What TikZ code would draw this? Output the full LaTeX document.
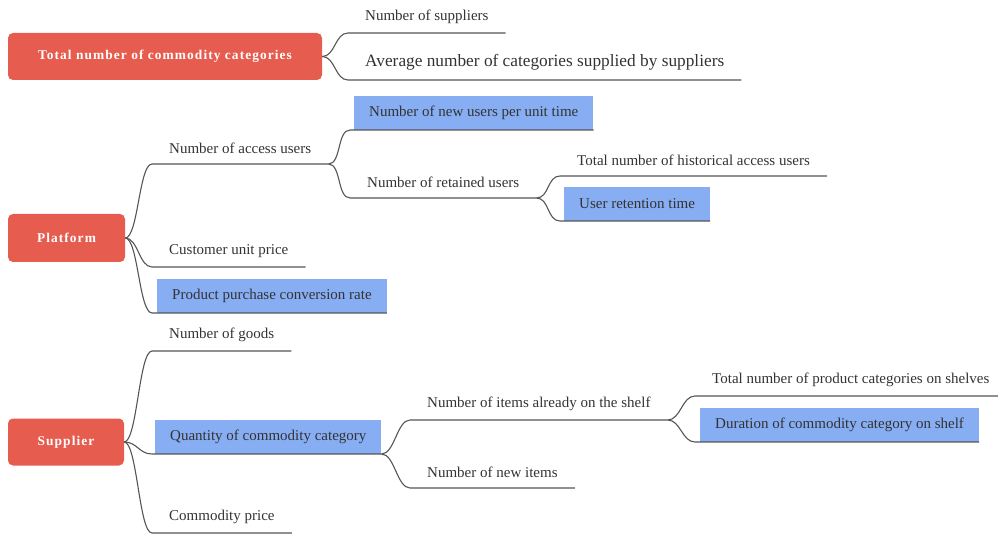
\documentclass[tikz,border=0pt]{standalone}
\usepackage{fontspec}
\setmainfont{Liberation Serif}
\newfontfamily\rootfont[LetterSpace=8]{Liberation Serif}
\usetikzlibrary{calc}
\definecolor{redc}{RGB}{230,92,79}
\definecolor{bluec}{RGB}{135,173,243}
\definecolor{txtc}{RGB}{51,51,51}
\definecolor{linec}{RGB}{85,85,85}
\tikzset{
  rootbox/.style={fill=redc, rounded corners=5pt, text=white, inner sep=0pt,
    font=\rootfont\bfseries\fontsize{13.4}{15}\selectfont},
  item/.style={text=txtc, font=\fontsize{15}{17}\selectfont, inner xsep=17pt,
    inner ysep=0pt, minimum height=31pt, anchor=south west},
  bigitem/.style={item, font=\fontsize{17.3}{20}\selectfont, minimum height=35pt},
  bluebox/.style={item, fill=bluec, inner xsep=15pt, minimum height=34pt},
  conn/.style={draw=linec, line width=1.1pt},
}
\newcommand\branch[3]{\draw[conn] (#1) .. controls +(13,0) and +(-13,0) .. (#2) -- (#3);}
\begin{document}
\begin{tikzpicture}[x=1pt,y=-1pt]
\useasboundingbox (0,0) rectangle (998,534);
% roots
\node[rootbox, minimum width=314pt, minimum height=47pt] (tot) at (165,56.5) {Total number of commodity categories};
\node[rootbox, minimum width=117pt, minimum height=48pt] (plat) at (66.5,238) {Platform};
\node[rootbox, minimum width=116pt, minimum height=47pt] (sup) at (66,442) {Supplier};
% total children
\node[item] (t1) at (348,33) {Number of suppliers};
\node[bigitem] (t2) at (348,80) {Average number of categories supplied by suppliers};
\branch{tot.east}{t1.south west}{t1.south east}
\branch{tot.east}{t2.south west}{t2.south east}
% platform children
\node[item] (p1) at (152,164) {Number of access users};
\node[item] (p2) at (152,267) {Customer unit price};
\node[bluebox] (p3) at (157,313) {Product purchase conversion rate};
\coordinate (p3s) at ($(p3.south west)+(-5,0)$);
\branch{plat.east}{p1.south west}{p1.south east}
\branch{plat.east}{p2.south west}{p2.south east}
\branch{plat.east}{p3s}{p3.south east}
% access users children
\node[bluebox] (a1) at (354,130) {Number of new users per unit time};
\coordinate (a1s) at ($(a1.south west)+(-4,0)$);
\node[item] (a2) at (350,198) {Number of retained users};
\branch{p1.south east}{a1s}{a1.south east}
\branch{p1.south east}{a2.south west}{a2.south east}
% retained children
\node[item] (r1) at (560,176) {Total number of historical access users};
\node[bluebox] (r2) at (564,221) {User retention time};
\coordinate (r2s) at ($(r2.south west)+(-4,0)$);
\branch{a2.south east}{r1.south west}{r1.south east}
\branch{a2.south east}{r2s}{r2.south east}
% supplier children
\node[item] (s1) at (152,351) {Number of goods};
\node[bluebox] (s2) at (155,454) {Quantity of commodity category};
\coordinate (s2s) at ($(s2.south west)+(-3,0)$);
\node[item] (s3) at (152,533) {Commodity price};
\branch{sup.east}{s1.south west}{s1.south east}
\branch{sup.east}{s2s}{s2.south east}
\branch{sup.east}{s3.south west}{s3.south east}
% quantity children
\node[item] (q1) at (410,420) {Number of items already on the shelf};
\node[item] (q2) at (410,488) {Number of new items};
\branch{s2.south east}{q1.south west}{q1.south east}
\branch{s2.south east}{q2.south west}{q2.south east}
% items on shelf children
\node[item] (i1) at (695,396) {Total number of product categories on shelves};
\node[bluebox] (i2) at (700,442) {Duration of commodity category on shelf};
\coordinate (i2s) at ($(i2.south west)+(-5,0)$);
\branch{q1.south east}{i1.south west}{i1.south east}
\branch{q1.south east}{i2s}{i2.south east}
\end{tikzpicture}
\end{document}
